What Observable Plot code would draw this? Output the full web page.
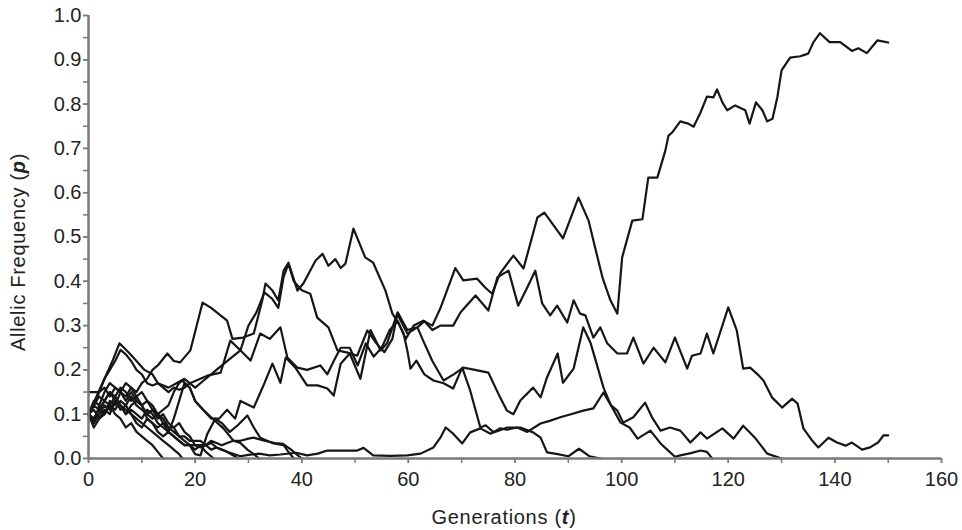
<!DOCTYPE html>
<html><head><meta charset="utf-8">
<script src="https://cdn.jsdelivr.net/npm/d3@7"></script>
<script src="https://cdn.jsdelivr.net/npm/@observablehq/plot@0.6"></script>
<style>body{margin:0;background:#fff} svg{display:block}</style>
</head><body><div id="chart"></div>
<script>
// tick labels
const xTickLabels = [0,20,40,60,80,100,120,140,160];
const xMinorTicks = [0,10,20,30,40,50,60,70,80,90,100,110,120,130,140,150,160];
const yTickLabels = [0,0.1,0.2,0.3,0.4,0.5,0.6,0.7,0.8,0.9,1.0];
const yMinorTicks = [0,0.05,0.1,0.15,0.2,0.25,0.3,0.35,0.4,0.45,0.5,0.55,0.6,0.65,0.7,0.75,0.8,0.85,0.9,0.95,1.0];

// replicate populations: [generation, allelic frequency]
const lineA = [[0,0.1],[1,0.12],[2,0.15],[3,0.18],[4,0.2],[5,0.22],[6,0.245],[7,0.235],[8,0.22],[9,0.2],[10,0.19],[11,0.17],[12,0.165],[13,0.17],[14,0.16],[15,0.15],[16,0.16],[17,0.155],[18,0.16],[19,0.17],[20,0.175],[22.3,0.187],[24.8,0.194],[26.6,0.266],[28,0.25],[30.4,0.221],[32.2,0.282],[34,0.27],[36,0.296],[37.3,0.228],[39.2,0.205],[41,0.2],[43.5,0.21],[44.8,0.19],[46,0.22],[47.3,0.25],[49,0.25],[50.5,0.21],[52,0.26],[53.5,0.23],[55,0.25],[56.5,0.29],[58,0.31],[59.5,0.27],[61,0.3],[62.8,0.311],[64.5,0.3],[66,0.339],[68.8,0.43],[70.3,0.402],[72.9,0.406],[74.4,0.386],[75.7,0.372],[77.2,0.418],[79.7,0.458],[81.6,0.429],[84.2,0.544],[85.5,0.555],[86.6,0.537],[89,0.497],[91.9,0.589],[93.8,0.537],[94.7,0.492],[96.4,0.409],[97.9,0.357],[99.2,0.327],[100.1,0.454],[102,0.537],[103.9,0.54],[105,0.634],[106.7,0.634],[108.2,0.695],[108.8,0.729],[109.5,0.736],[111,0.761],[112.5,0.756],[113.5,0.749],[114.8,0.781],[116,0.817],[117.2,0.815],[117.9,0.833],[118.9,0.804],[119.8,0.786],[121.3,0.797],[123.2,0.786],[124,0.756],[125.2,0.804],[126.4,0.786],[127.3,0.761],[128.3,0.767],[129.2,0.815],[130,0.876],[131.6,0.905],[133.5,0.908],[135,0.914],[136,0.94],[137.2,0.96],[139,0.94],[141,0.94],[143.2,0.92],[144.4,0.926],[146,0.915],[148,0.944],[150,0.939]];
const lineB = [[0,0.1],[1.5,0.14],[3,0.18],[4.5,0.22],[5.8,0.26],[7.5,0.24],[9,0.22],[10.5,0.2],[12,0.19],[13,0.17],[15,0.16],[16.5,0.17],[18,0.18],[20,0.16],[22,0.18],[24,0.2],[26,0.22],[28.5,0.244],[30,0.3],[31.5,0.33],[33,0.375],[34.5,0.36],[35.6,0.34],[36.6,0.41],[37.5,0.44],[38.5,0.4],[40,0.38],[41.6,0.372],[42.9,0.318],[45,0.296],[46.7,0.244],[48.6,0.239],[50.4,0.232],[52.3,0.289],[54,0.26],[55.5,0.24],[57,0.27],[58,0.33],[59.8,0.29],[61.7,0.296],[63,0.31],[64.5,0.29],[66,0.3],[68.4,0.3],[69.8,0.33],[72.6,0.368],[75,0.334],[76.7,0.409],[78.8,0.424],[80.6,0.345],[82.3,0.386],[83.8,0.424],[85.1,0.35],[86.6,0.323],[87.9,0.345],[89.8,0.307],[91,0.357],[92.2,0.327],[93.2,0.323],[94.7,0.273],[96,0.296],[97.3,0.26],[99.2,0.237],[101,0.237],[102.2,0.273],[104.1,0.214],[106,0.25],[108.2,0.217],[110,0.273],[112.3,0.203],[113.2,0.232],[114.8,0.237],[116,0.282],[117.2,0.237],[120,0.341],[121.6,0.289],[122.8,0.203],[124.1,0.205],[125.5,0.19],[126.6,0.176],[128.2,0.138],[130.1,0.115],[132,0.135],[133,0.124],[134.1,0.068],[135.7,0.041],[136.9,0.025],[138.8,0.047],[140.4,0.036],[142,0.029],[143.2,0.036],[145.1,0.02],[146.6,0.025],[148.1,0.036],[149.1,0.052],[150,0.052]];
const lineC = [[0,0.1],[1,0.08],[2,0.12],[3,0.1],[4,0.13],[5,0.12],[6,0.15],[7,0.14],[8,0.16],[9,0.15],[10,0.17],[11,0.18],[12,0.2],[13,0.21],[14.8,0.237],[16,0.22],[17.2,0.217],[19.1,0.244],[21.4,0.352],[23,0.34],[26,0.311],[27,0.27],[29,0.273],[31,0.282],[32.6,0.357],[33.2,0.395],[34.5,0.379],[35.6,0.357],[36.6,0.424],[37.5,0.442],[39.2,0.379],[40.3,0.395],[42.6,0.447],[43.9,0.462],[45,0.435],[46.3,0.45],[47.3,0.43],[48.2,0.44],[49.7,0.519],[51.9,0.454],[53.4,0.442],[55.7,0.379],[57,0.327],[58.1,0.307],[59.1,0.282],[59.8,0.244],[60.4,0.203],[61.5,0.221],[63,0.19],[64.7,0.176],[66.6,0.17],[68.4,0.158],[70.1,0.205],[71.6,0.153],[73.5,0.07],[74.5,0.075],[76,0.059],[78.6,0.07],[81,0.07],[83.4,0.059],[84.8,0.047],[86,0.014],[88,0.01],[90,0.005],[92,0.022],[94,0.005],[96,0]];
const lineD = [[0,0.1],[1,0.09],[2,0.11],[3,0.13],[4,0.12],[5,0.14],[6,0.12],[7,0.11],[8,0.1],[9,0.08],[10,0.07],[11,0.09],[12,0.08],[13,0.06],[14,0.05],[15,0.06],[16,0.05],[17,0.04],[18,0.03],[19,0.03],[20,0.02],[21,0.03],[22,0.03],[23,0.02],[24,0.025],[26,0.015],[28.5,0.005],[30,0.008],[32,0.011],[34,0.007],[36,0.009],[39,0.013],[41,0.007],[43,0.011],[44.8,0.018],[47,0.018],[50.4,0.018],[51.6,0.024],[53.4,0.007],[56.6,0.006],[59.8,0.007],[62.3,0.011],[64.7,0.025],[66,0.047],[67,0.07],[68.4,0.056],[70.1,0.034],[71.6,0.059],[73.5,0.068],[75.4,0.056],[77.2,0.068],[78.5,0.065],[80.4,0.07],[82.3,0.06],[84.8,0.079],[86.5,0.085],[88.5,0.093],[90.5,0.1],[92.8,0.108],[94.7,0.113],[96.6,0.149],[98,0.12],[99.2,0.108],[100.3,0.081],[102.2,0.093],[104.4,0.126],[105.7,0.093],[107.3,0.063],[109.1,0.07],[111,0.063],[112.9,0.036],[114.8,0.059],[116,0.045],[118.9,0.068],[121,0.045],[122.8,0.074],[125,0.047],[127.3,0.011],[130,0]];
const lineE = [[0,0.1],[1,0.07],[2,0.09],[3,0.11],[4,0.1],[5,0.13],[6,0.12],[7,0.1],[8,0.12],[9,0.13],[10,0.12],[11,0.09],[12,0.08],[13,0.07],[14,0.08],[15,0.06],[16,0.09],[17,0.13],[18,0.17],[19,0.16],[20,0.13],[21.5,0.11],[23,0.09],[24.5,0.09],[26,0.11],[27.5,0.09],[28.5,0.13],[31,0.115],[33,0.17],[34.5,0.214],[36,0.171],[37,0.228],[38.8,0.205],[41,0.165],[43,0.165],[44.8,0.158],[46,0.142],[47.3,0.214],[49,0.237],[51,0.18],[52.9,0.29],[54.8,0.244],[56,0.26],[57.9,0.327],[59.8,0.282],[61.7,0.296],[63,0.26],[64.5,0.22],[66.6,0.176],[68.5,0.19],[70.3,0.205],[72.5,0.2],[75,0.194],[77.2,0.138],[78.5,0.108],[79.7,0.1],[81,0.131],[83.4,0.16],[84.8,0.138],[86,0.183],[88,0.237],[89,0.171],[91,0.203],[92.8,0.296],[94.2,0.26],[96.6,0.16],[98,0.12],[99.8,0.081],[101.5,0.07],[103,0.045],[105.4,0.063],[107.3,0.034],[109,0.015],[110,0.004],[111,0.007],[113,0.012],[114.8,0.018],[116,0.015],[117,0]];
const lineF = [[0,0.1],[1,0.11],[2,0.09],[3,0.1],[4,0.12],[5,0.1],[6,0.09],[7,0.07],[8,0.08],[9,0.06],[10,0.05],[11,0.04],[12,0.03],[13,0.015],[14,0]];
const lineG = [[0,0.1],[1,0.12],[2,0.14],[3,0.13],[4,0.15],[5,0.13],[6,0.11],[7,0.12],[8,0.1],[9,0.09],[10,0.08],[11,0.07],[12,0.06],[13,0.05],[14,0.04],[15,0.03],[16,0.02],[17,0.01],[17.6,0]];
const lineH = [[0,0.15],[2,0.15],[3,0.16],[4,0.14],[5,0.16],[6,0.15],[7,0.13],[8,0.15],[9,0.13],[10,0.12],[11,0.1],[12,0.09],[13,0.1],[14,0.08],[15,0.07],[16,0.06],[17,0.05],[18,0.04],[19,0.03],[20,0.03],[21,0.03],[22,0.015],[23.5,0]];
const lineI = [[0,0.1],[1,0.13],[2,0.12],[3,0.15],[4,0.17],[5,0.16],[6,0.15],[7,0.17],[8,0.16],[9,0.14],[10,0.15],[11,0.13],[12,0.12],[13,0.1],[14,0.09],[15,0.07],[16,0.07],[17,0.05],[18,0.05],[19,0.04],[20,0.04],[21,0.04],[22,0.03],[23,0.035],[24,0.025],[25,0.02],[26,0.015],[27,0.008],[28,0]];
const lineJ = [[0,0.1],[1,0.12],[2,0.11],[3,0.13],[4,0.15],[5,0.14],[6,0.16],[7,0.15],[8,0.13],[9,0.14],[10,0.12],[11,0.13],[12,0.11],[13,0.1],[14,0.11],[15,0.12],[16,0.15],[17,0.17],[17.6,0.176],[19,0.16],[20,0.13],[21.5,0.11],[23,0.093],[25.3,0.068],[27.2,0.04],[28.5,0.035],[29.8,0.02],[31,0.01],[32,0]];
const lineK = [[0,0.1],[1,0.08],[2,0.1],[3,0.12],[4,0.11],[5,0.13],[6,0.12],[7,0.1],[8,0.11],[9,0.1],[10,0.09],[11,0.11],[12,0.1],[13,0.08],[14,0.07],[15,0.06],[16,0.05],[17,0.04],[18,0.03],[19,0.03],[20,0.01],[21,0.007],[22.3,0.056],[23.8,0.09],[25,0.08],[26.5,0.06],[28,0.075],[29.8,0.097],[31,0.07],[32.2,0.047],[34.7,0.034],[36.6,0.03],[37.5,0.015],[38.5,0]];
const lineL = [[0,0.1],[1,0.09],[2,0.11],[3,0.1],[4,0.12],[5,0.11],[6,0.13],[7,0.12],[8,0.14],[9,0.12],[10,0.11],[11,0.1],[12,0.11],[13,0.09],[14,0.1],[15,0.08],[16,0.07],[17,0.08],[18,0.06],[19,0.05],[20,0.03],[21,0.025],[22,0.03],[23,0.04],[24,0.035],[25,0.03],[26,0.035],[27.2,0.04],[28.5,0.04],[30,0.045],[31,0.047],[33,0.04],[35,0.035],[36.5,0.033],[38,0.02],[39,0.01],[40,0]];

const namedLines = [["A",lineA],["B",lineB],["C",lineC],["D",lineD],["E",lineE],["F",lineF],["G",lineG],["H",lineH],["I",lineI],["J",lineJ],["K",lineK],["L",lineL]];
const rows = namedLines.flatMap(([id, pts]) => pts.map(([t, p]) => ({id, t, p})));

const axisColor = "#7a7a7a";
const chart = Plot.plot({
  width: 962, height: 530,
  marginLeft: 88, marginRight: 21, marginTop: 15, marginBottom: 72,
  x: {domain: [0, 160]},
  y: {domain: [0, 1]},
  style: {fontFamily: "'Liberation Sans', Arial, sans-serif", fontSize: "20px", color: "#222", background: "#fff"},
  marks: [
    Plot.axisY({ticks: yMinorTicks, tickFormat: () => "", tickSize: 5, stroke: axisColor, strokeWidth: 1.5, label: null}),
    Plot.axisY({ticks: yTickLabels, tickFormat: d => d.toFixed(1), tickSize: 5, tickPadding: 2, stroke: axisColor, strokeWidth: 1.5, fill: "#222", label: null}),
    Plot.axisX({ticks: xMinorTicks, tickFormat: () => "", tickSize: 5, stroke: axisColor, strokeWidth: 1.5, label: null}),
    Plot.axisX({ticks: xTickLabels, tickFormat: d => String(d), tickSize: 5, tickPadding: 8, stroke: axisColor, strokeWidth: 1.5, fill: "#222", label: null}),
    Plot.line(rows, {x: "t", y: "p", z: "id", stroke: "#161616", strokeWidth: 2.2, strokeLinejoin: "round"}),
    Plot.ruleX([0], {stroke: axisColor, strokeWidth: 2.5}),
    Plot.ruleY([0], {stroke: axisColor, strokeWidth: 2.5})
  ]
});
document.getElementById("chart").appendChild(chart);

const svg = d3.select(chart);
const font = "'Liberation Sans', Arial, sans-serif";
const yl = svg.append("text")
  .attr("transform", "translate(25,252) rotate(-90)")
  .attr("text-anchor", "middle").attr("font-family", font).attr("font-size", 20)
  .attr("letter-spacing", "0.7px").attr("fill", "#222");
yl.append("tspan").text("Allelic Frequency (");
yl.append("tspan").attr("font-weight", "bold").attr("font-style", "italic").text("p");
yl.append("tspan").text(")");
const xl = svg.append("text")
  .attr("x", 504).attr("y", 524)
  .attr("text-anchor", "middle").attr("font-family", font).attr("font-size", 20)
  .attr("letter-spacing", "0.7px").attr("fill", "#222");
xl.append("tspan").text("Generations (");
xl.append("tspan").attr("font-weight", "bold").attr("font-style", "italic").text("t");
xl.append("tspan").text(")");
</script>
</body></html>
